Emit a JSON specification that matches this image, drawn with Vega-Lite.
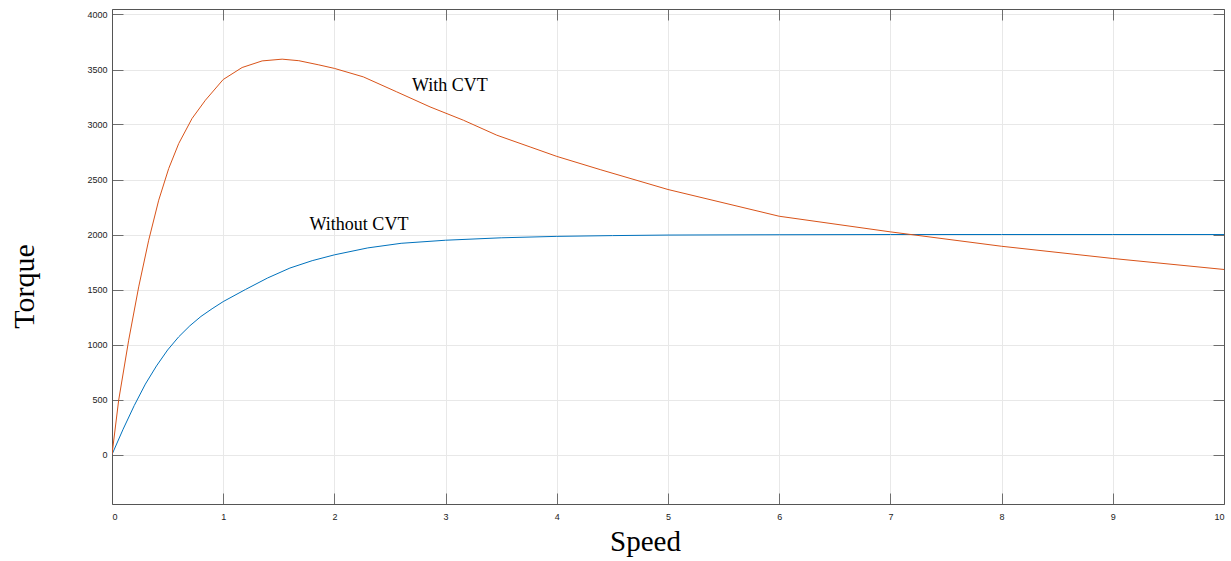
{
  "$schema": "https://vega.github.io/schema/vega-lite/v6.json",
  "width": 1112,
  "height": 495,
  "autosize": "none",
  "padding": {"left": 112, "top": 9, "right": 7, "bottom": 57},
  "background": "white",
  "config": {
    "view": {"stroke": null},
    "axis": {
      "labelFont": "Liberation Sans",
      "labelFontSize": 9,
      "labelColor": "#222222",
      "domainColor": "#555555",
      "tickColor": "#6e6e6e",
      "tickWidth": 1,
      "gridColor": "#e8e8e8",
      "titleFont": "Liberation Serif",
      "titleFontWeight": "normal",
      "titleColor": "#000000"
    }
  },
  "datasets": {
    "curves": [
      {"speed": 0, "torque": 0, "series": "Without CVT"},
      {"speed": 0.1, "torque": 230, "series": "Without CVT"},
      {"speed": 0.2, "torque": 445, "series": "Without CVT"},
      {"speed": 0.3, "torque": 640, "series": "Without CVT"},
      {"speed": 0.4, "torque": 805, "series": "Without CVT"},
      {"speed": 0.5, "torque": 950, "series": "Without CVT"},
      {"speed": 0.6, "torque": 1070, "series": "Without CVT"},
      {"speed": 0.7, "torque": 1170, "series": "Without CVT"},
      {"speed": 0.8, "torque": 1255, "series": "Without CVT"},
      {"speed": 0.9, "torque": 1325, "series": "Without CVT"},
      {"speed": 1.0, "torque": 1390, "series": "Without CVT"},
      {"speed": 1.2, "torque": 1500, "series": "Without CVT"},
      {"speed": 1.4, "torque": 1605, "series": "Without CVT"},
      {"speed": 1.6, "torque": 1695, "series": "Without CVT"},
      {"speed": 1.8, "torque": 1762, "series": "Without CVT"},
      {"speed": 2.0, "torque": 1815, "series": "Without CVT"},
      {"speed": 2.3, "torque": 1878, "series": "Without CVT"},
      {"speed": 2.6, "torque": 1920, "series": "Without CVT"},
      {"speed": 3.0, "torque": 1948, "series": "Without CVT"},
      {"speed": 3.5, "torque": 1970, "series": "Without CVT"},
      {"speed": 4.0, "torque": 1983, "series": "Without CVT"},
      {"speed": 4.5, "torque": 1990, "series": "Without CVT"},
      {"speed": 5.0, "torque": 1995, "series": "Without CVT"},
      {"speed": 6.0, "torque": 1998, "series": "Without CVT"},
      {"speed": 7.0, "torque": 2000, "series": "Without CVT"},
      {"speed": 8.0, "torque": 2000, "series": "Without CVT"},
      {"speed": 9.0, "torque": 2000, "series": "Without CVT"},
      {"speed": 10.0, "torque": 2000, "series": "Without CVT"},
      {"speed": 0, "torque": 0, "series": "With CVT"},
      {"speed": 0.06, "torque": 494, "series": "With CVT"},
      {"speed": 0.15, "torque": 1039, "series": "With CVT"},
      {"speed": 0.24, "torque": 1524, "series": "With CVT"},
      {"speed": 0.33, "torque": 1948, "series": "With CVT"},
      {"speed": 0.42, "torque": 2312, "series": "With CVT"},
      {"speed": 0.51, "torque": 2600, "series": "With CVT"},
      {"speed": 0.6, "torque": 2827, "series": "With CVT"},
      {"speed": 0.72, "torque": 3055, "series": "With CVT"},
      {"speed": 0.84, "torque": 3221, "series": "With CVT"},
      {"speed": 1.0, "torque": 3409, "series": "With CVT"},
      {"speed": 1.17, "torque": 3518, "series": "With CVT"},
      {"speed": 1.35, "torque": 3578, "series": "With CVT"},
      {"speed": 1.53, "torque": 3594, "series": "With CVT"},
      {"speed": 1.68, "torque": 3580, "series": "With CVT"},
      {"speed": 1.86, "torque": 3542, "series": "With CVT"},
      {"speed": 2.0, "torque": 3510, "series": "With CVT"},
      {"speed": 2.26, "torque": 3433, "series": "With CVT"},
      {"speed": 2.56, "torque": 3297, "series": "With CVT"},
      {"speed": 2.86, "torque": 3160, "series": "With CVT"},
      {"speed": 3.16, "torque": 3039, "series": "With CVT"},
      {"speed": 3.46, "torque": 2903, "series": "With CVT"},
      {"speed": 3.76, "torque": 2796, "series": "With CVT"},
      {"speed": 4.0, "torque": 2710, "series": "With CVT"},
      {"speed": 4.39, "torque": 2590, "series": "With CVT"},
      {"speed": 5.0, "torque": 2409, "series": "With CVT"},
      {"speed": 6.0, "torque": 2166, "series": "With CVT"},
      {"speed": 7.0, "torque": 2024, "series": "With CVT"},
      {"speed": 8.0, "torque": 1893, "series": "With CVT"},
      {"speed": 9.0, "torque": 1782, "series": "With CVT"},
      {"speed": 10.0, "torque": 1682, "series": "With CVT"}
    ],
    "labels": [
      {"speed": 2.698, "torque": 3303, "label": "With CVT"},
      {"speed": 1.777, "torque": 2039, "label": "Without CVT"}
    ]
  },
  "layer": [
    {
      "data": {"name": "curves"},
      "mark": {"type": "line", "strokeWidth": 1, "clip": true},
      "encoding": {
        "x": {
          "field": "speed", "type": "quantitative",
          "scale": {"domain": [0, 10], "nice": false, "zero": false},
          "axis": {
            "orient": "bottom",
            "title": "Speed", "titleFontSize": 29, "titleX": 533, "titleY": 46,
            "titleAlign": "center", "titleBaseline": "alphabetic", "titleAnchor": null,
            "values": [0,1,2,3,4,5,6,7,8,9,10], "format": "d",
            "tickSize": -11, "labelPadding": 19, "grid": true, "domain": true
          }
        },
        "y": {
          "field": "torque", "type": "quantitative",
          "scale": {"domain": [-450, 4050], "nice": false, "zero": false},
          "axis": {
            "orient": "left",
            "title": "Torque", "titleFontSize": 30, "titleX": -79, "titleY": 277,
            "titleAlign": "center", "titleBaseline": "alphabetic", "titleAngle": -90, "titleAnchor": null,
            "values": [0,500,1000,1500,2000,2500,3000,3500,4000], "format": "d",
            "tickSize": -11, "labelPadding": 16, "grid": true, "domain": true
          }
        },
        "color": {
          "field": "series", "type": "nominal",
          "scale": {"domain": ["Without CVT", "With CVT"], "range": ["#0072BD", "#D95319"]},
          "legend": null
        },
        "order": {"field": "speed", "type": "quantitative"}
      }
    },
    {
      "data": {"name": "labels"},
      "mark": {"type": "text", "font": "Liberation Serif", "fontSize": 18, "align": "left", "baseline": "alphabetic", "color": "#000000"},
      "encoding": {
        "x": {"field": "speed", "type": "quantitative", "axis": null},
        "y": {"field": "torque", "type": "quantitative", "axis": null},
        "text": {"field": "label"}
      }
    },
    {
      "data": {"values": [{"speed": 0, "torque": 0}]},
      "mark": {"type": "point", "opacity": 0},
      "encoding": {
        "x": {"field": "speed", "type": "quantitative", "axis": {"orient": "top", "labels": false, "title": null, "tickSize": -11, "grid": false, "values": [0,1,2,3,4,5,6,7,8,9,10]}},
        "y": {"field": "torque", "type": "quantitative", "axis": {"orient": "right", "labels": false, "title": null, "tickSize": -11, "grid": false, "values": [0,500,1000,1500,2000,2500,3000,3500,4000]}}
      }
    }
  ],
  "resolve": {"scale": {"x": "shared", "y": "shared"}, "axis": {"x": "independent", "y": "independent"}}
}
